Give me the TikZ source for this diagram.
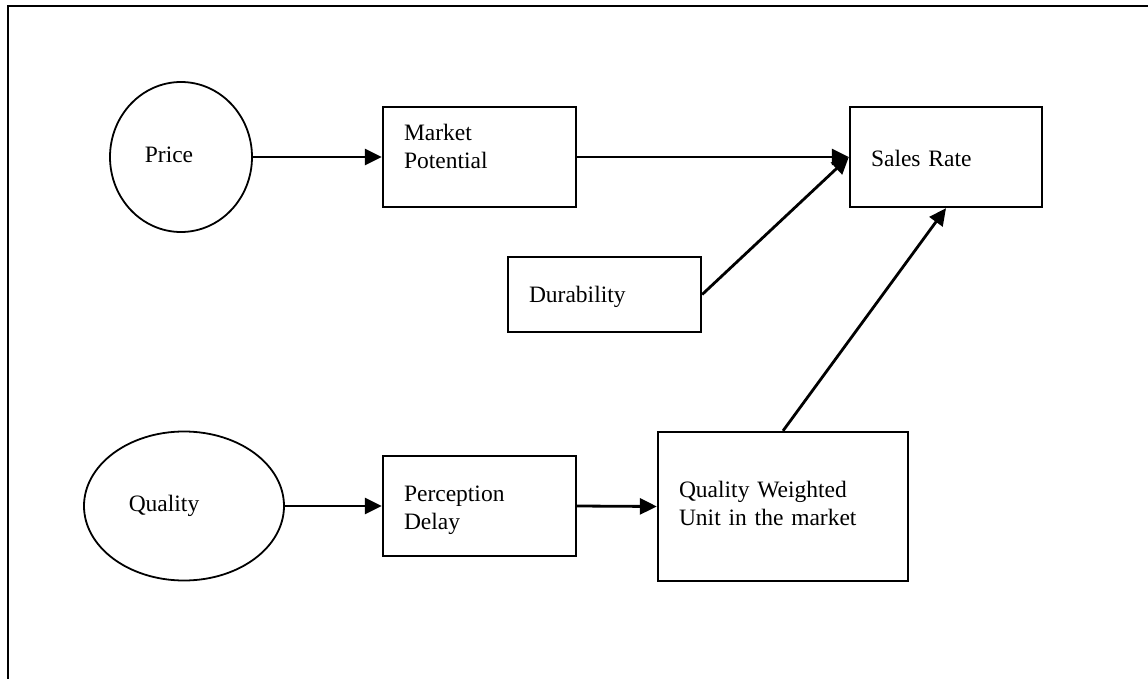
\documentclass[tikz,border=0pt]{standalone}
\usepackage{fontspec}
\setmainfont{Liberation Serif}
\usetikzlibrary{shapes.geometric,arrows.meta}
\newcommand\boxtxt[2]{\raisebox{-#1}[0pt][0pt]{\begin{tabular}[t]{@{}l@{}}#2\end{tabular}}}
\begin{document}
\begin{tikzpicture}[x=1pt,y=-1pt,
  every node/.style={font=\fontsize{23.5}{28}\selectfont},
  boxnode/.style={draw, line width=2.3pt, inner xsep=21pt, inner ysep=0pt, align=left, anchor=center},
  ovalnode/.style={draw, ellipse, line width=1.8pt, inner sep=0pt},
  flow/.style={line width=2.8pt, -{Triangle[length=17pt,width=16pt]}}
]
\useasboundingbox (0,0) rectangle (1148,679);
\draw[line width=2.3pt] (8,679) -- (8,6) -- (1148,6);

\node[ovalnode, minimum width=142pt, minimum height=150pt] (price) at (181,157) {\boxtxt{6pt}{Price\kern24pt}};
\node[ovalnode, minimum width=200pt, minimum height=149pt] (quality) at (184,506) {\boxtxt{5pt}{Quality\kern40pt}};

\node[boxnode, minimum width=193pt, minimum height=100pt, text width=151pt] (market) at (479.5,157) {\boxtxt{-16pt}{Market\\Potential}};
\node[boxnode, minimum width=192pt, minimum height=100pt, text width=150pt] (sales) at (946,157) {\boxtxt{10pt}{Sales Rate}};
\node[boxnode, minimum width=193pt, minimum height=75pt, text width=151pt] (dur) at (604.5,294.5) {\boxtxt{7.5pt}{Durability}};
\node[boxnode, minimum width=193pt, minimum height=100pt, text width=151pt] (perc) at (479.5,506) {\boxtxt{-5pt}{Perception\\Delay}};
\node[boxnode, minimum width=250pt, minimum height=149pt, text width=208pt] (qwu) at (783,506.5) {\boxtxt{-9.5pt}{Quality Weighted\\Unit in the market}};

\draw[flow] (price.east) -- (market.west);
\draw[flow] (market.east) -- (sales.west);
\draw[flow] (dur.east) -- (sales.west);
\draw[flow] (quality.east) -- (perc.west);
\draw[flow] (perc.east) -- (qwu.west);
\draw[flow] (qwu.north) -- (sales.south);
\end{tikzpicture}
\end{document}
